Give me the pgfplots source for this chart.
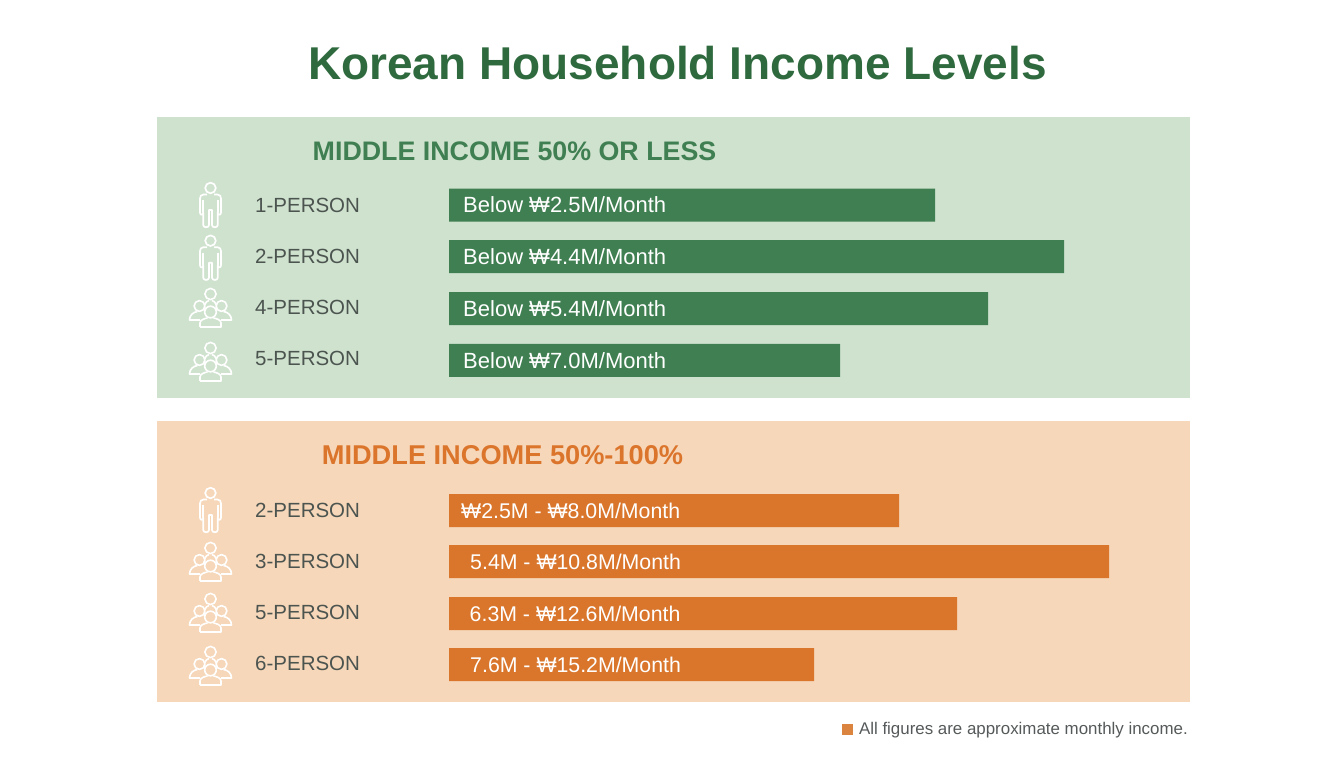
\documentclass[border=0pt]{standalone}
\usepackage{pgfplots}
\pgfplotsset{compat=1.18}
\usepackage{fontspec}
\setmainfont{Liberation Sans}
\definecolor{gpanel}{HTML}{CFE2CE}
\definecolor{gbar}{HTML}{3F7F51}
\definecolor{ghead}{HTML}{3F7F51}
\definecolor{opanel}{HTML}{F6D7B9}
\definecolor{obar}{HTML}{D9762C}
\definecolor{ohead}{HTML}{DC752C}
\definecolor{titlec}{HTML}{2F6A3E}
\definecolor{labc}{HTML}{4C5450}
\definecolor{notec}{HTML}{55595A}
\definecolor{sq}{HTML}{DB843F}
\newcommand{\fsz}[1]{\fontsize{#1}{#1}\selectfont}
\newcommand{\personicon}[2]{%
  \begin{scope}[shift={(#1pt,{768pt-#2pt})},x=1pt,y=-1pt,draw=white,line width=1.7pt,line join=round]
    \draw (0,0) circle[radius=5.3pt];
    \draw (-3.5,6.5) -- (-7,6.5) .. controls (-9.5,6.5) and (-10.5,8.5) .. (-10.5,10.5)
      -- (-10.5,24.5) .. controls (-10.5,27.5) and (-7.3,27.5) .. (-7.3,24.5) -- (-7.3,37)
      .. controls (-7.3,40) and (-1.5,40) .. (-1.5,37) -- (-1.5,22) -- (1.5,22) -- (1.5,37)
      .. controls (1.5,40) and (7.3,40) .. (7.3,37) -- (7.3,24.5)
      .. controls (7.3,27.5) and (10.5,27.5) .. (10.5,24.5) -- (10.5,10.5)
      .. controls (10.5,8.5) and (9.5,6.5) .. (7,6.5) -- (3.5,6.5);
    \draw (-7.3,12) -- (-7.3,24.5) (7.3,12) -- (7.3,24.5);
  \end{scope}}
\newcommand{\groupicon}[2]{%
  \begin{scope}[shift={(#1pt,{768pt-#2pt})},x=1pt,y=-1pt,draw=white,line width=1.6pt,line join=round]
    \draw (0,0) circle[radius=5.6pt];
    \draw (-11,12) circle[radius=5.4pt] (11,12) circle[radius=5.4pt] (0,18) circle[radius=5.8pt];
    \draw (-6,11) .. controls (-5,8) and (-3,7) .. (-1.5,6.5) (6,11) .. controls (5,8) and (3,7) .. (1.5,6.5);
    \draw (-10.5,26) -- (-21,26) .. controls (-21,21) and (-17,18) .. (-13,17.5);
    \draw (10.5,26) -- (21,26) .. controls (21,21) and (17,18) .. (13,17.5);
    \draw (-10.5,33) -- (10.5,33) -- (10.5,29) .. controls (10.5,26) and (6,24.5) .. (3,24)
       (-3,24) .. controls (-6,24.5) and (-10.5,26) .. (-10.5,29) -- (-10.5,33);
  \end{scope}}
\begin{document}
\begin{tikzpicture}[x=1pt,y=1pt]
\path (0,0) rectangle (1344,768);
\fill[gpanel] (157,{768-117}) rectangle (1190,{768-398});
\fill[opanel] (157,{768-421}) rectangle (1190,{768-702});
\begin{axis}[
  at={(0pt,0pt)},anchor=south west,scale only axis,
  width=1344pt,height=768pt,
  xmin=-449,xmax=895,ymin=0,ymax=768,y dir=reverse,
  axis lines=none,clip=false,
  xbar,bar width=33pt,bar shift=0pt]
\addplot[fill=gbar,draw=none] coordinates {(486,205) (615,256.5) (539,308.5) (391,360.3)};
\addplot[fill=obar,draw=none] coordinates {(450,510.5) (660,561.7) (508,613.5) (365,664.7)};
\node[anchor=west,inner sep=0pt,white,font=\fsz{22}] at (axis cs:14,205) {Below ₩2.5M/Month};
\node[anchor=west,inner sep=0pt,white,font=\fsz{22}] at (axis cs:14,256.5) {Below ₩4.4M/Month};
\node[anchor=west,inner sep=0pt,white,font=\fsz{22}] at (axis cs:14,308.5) {Below ₩5.4M/Month};
\node[anchor=west,inner sep=0pt,white,font=\fsz{22}] at (axis cs:14,360.3) {Below ₩7.0M/Month};
\node[anchor=west,inner sep=0pt,white,font=\fsz{21.3}] at (axis cs:12,510.5) {₩2.5M - ₩8.0M/Month};
\node[anchor=west,inner sep=0pt,white,font=\fsz{21.3}] at (axis cs:21,561.7) {5.4M - ₩10.8M/Month};
\node[anchor=west,inner sep=0pt,white,font=\fsz{21.3}] at (axis cs:20.5,613.5) {6.3M - ₩12.6M/Month};
\node[anchor=west,inner sep=0pt,white,font=\fsz{21.3}] at (axis cs:21,664.7) {7.6M - ₩15.2M/Month};
\end{axis}
\node[anchor=center,text=titlec,font=\fsz{46}\bfseries] at (677.5,{768-63}) {Korean Household Income Levels};
\node[anchor=center,text=ghead,font=\fsz{26.8}\bfseries] at (514.5,{768-151}) {MIDDLE INCOME 50\% OR LESS};
\node[anchor=center,text=ohead,font=\fsz{27.2}\bfseries] at (502.5,{768-455}) {MIDDLE INCOME 50\%-100\%};
\foreach \t/\y in {1-PERSON/205,2-PERSON/256,4-PERSON/307,5-PERSON/358,2-PERSON/510,3-PERSON/561,5-PERSON/612,6-PERSON/663}
  \node[anchor=west,inner sep=0pt,text=labc,font=\fsz{20.5}] at (255,{768-\y}) {\t};
\personicon{210.5}{188}
\personicon{210.5}{240.7}
\groupicon{210.5}{294}
\groupicon{210.5}{348}
\personicon{210.5}{493}
\groupicon{210.5}{548}
\groupicon{210.5}{599}
\groupicon{210.5}{652}
\fill[sq] (842,{768-724}) rectangle (853,{768-735});
\node[anchor=east,inner sep=0pt,text=notec,font=\fsz{16.9}] at (1188,{768-730}) {All figures are approximate monthly income.};
\end{tikzpicture}
\end{document}
